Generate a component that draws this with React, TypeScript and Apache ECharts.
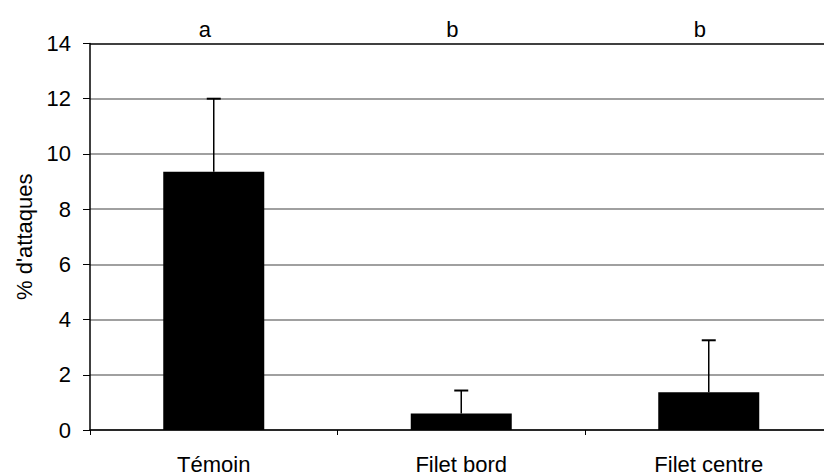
import React, { useEffect, useRef } from "react";
import * as echarts from "echarts";

const categories = ["Témoin", "Filet bord", "Filet centre"];
const means = [9.35, 0.6, 1.37];
const upperErrors = [12.0, 1.43, 3.25];
const letters = ["a", "b", "b"];
const yTicks = [0, 2, 4, 6, 8, 10, 12, 14];

const FONT = "'Liberation Sans', Arial, sans-serif";
const FS = 22;

export default function App() {
  const ref = useRef<HTMLDivElement>(null);
  useEffect(() => {
    if (!ref.current) return;
    const chart = echarts.init(ref.current, null, { renderer: "svg" });
    const yMax = yTicks[yTicks.length - 1];
    chart.setOption({
      animation: false,
      backgroundColor: "#fff",
      grid: { left: 90, top: 43.5, height: 388.5, width: 742.5, containLabel: false },
      xAxis: {
        type: "category",
        data: categories,
        axisLine: { lineStyle: { color: "#000", width: 1.5 } },
        axisTick: { show: true, length: 5, lineStyle: { color: "#000" } },
        axisLabel: { color: "#000", fontSize: FS, fontFamily: FONT, margin: 23 },
      },
      yAxis: {
        type: "value",
        min: 0,
        max: yMax,
        interval: 2,
        name: "% d'attaques",
        nameLocation: "middle",
        nameGap: 50,
        nameTextStyle: { color: "#000", fontSize: FS, fontFamily: FONT },
        axisLine: { show: true, lineStyle: { color: "#000", width: 1.5 } },
        axisTick: { show: true, length: 7, lineStyle: { color: "#000" } },
        axisLabel: { color: "#000", fontSize: FS, fontFamily: FONT, margin: 19 },
        splitLine: {
          show: true,
          lineStyle: {
            color: ["#808080", "#808080", "#808080", "#808080", "#808080", "#808080", "#808080", "#000"],
            width: 1.5,
          },
        },
      },
      series: [
        {
          type: "bar",
          data: means,
          barWidth: 101,
          itemStyle: { color: "#000" },
          z: 2,
        },
        {
          type: "custom",
          z: 3,
          data: categories.map((_, i) => [i, means[i], upperErrors[i]]),
          renderItem: (params: any, api: any) => {
            const i = api.value(0);
            const base = api.coord([i, api.value(1)]);
            const top = api.coord([i, api.value(2)]);
            const cap = 7;
            return {
              type: "group",
              children: [
                {
                  type: "line",
                  shape: { x1: base[0], y1: base[1], x2: top[0], y2: top[1] },
                  style: { stroke: "#000", lineWidth: 1.5 },
                },
                {
                  type: "line",
                  shape: { x1: top[0] - cap, y1: top[1], x2: top[0] + cap, y2: top[1] },
                  style: { stroke: "#000", lineWidth: 2 },
                },
              ],
            };
          },
        },
        {
          type: "custom",
          z: 4,
          data: categories.map((_, i) => [i, yMax]),
          renderItem: (params: any, api: any) => {
            const i = params.dataIndex;
            const p = api.coord([api.value(0), api.value(1)]);
            return {
              type: "text",
              x: p[0] - 9,
              y: p[1] - 14,
              style: {
                text: letters[i],
                fill: "#000",
                fontSize: FS,
                fontFamily: FONT,
                align: "center",
                verticalAlign: "middle",
              },
            };
          },
        },
      ],
    });
    return () => chart.dispose();
  }, []);
  return (
    <div
      style={{ position: "absolute", left: 0, top: 0, width: 824, height: 475, overflow: "hidden" }}
    >
      <div ref={ref} style={{ width: 833, height: 475 }} />
    </div>
  );
}
